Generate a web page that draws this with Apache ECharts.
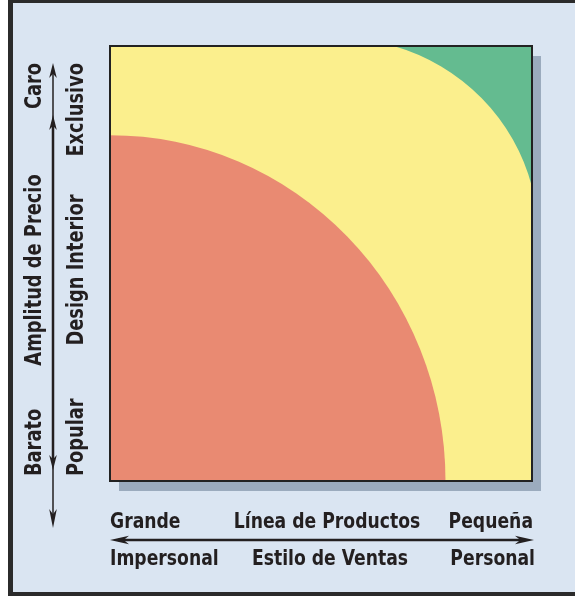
<!DOCTYPE html>
<html>
<head>
<meta charset="utf-8">
<script src="https://cdn.jsdelivr.net/npm/echarts@6/dist/echarts.min.js"></script>
<style>
html,body{margin:0;padding:0;background:#ffffff;}
#chart{width:575px;height:596px;}
</style>
</head>
<body>
<div id="chart"></div>
<script>
// ---- data (axis units 0..100 on both axes) ----
const tiers = ['Popular', 'Design Interior', 'Exclusivo'];
// each zone: [centre x, centre y, radius x, radius y]
const popularZone = [0, 0, 79.5, 79.5];        // quarter circle from the origin
const interiorZone = [0, 0, 100, 100];         // whole square (background tier)
const exclusivoZone = [54, 56.3, 47.5, 45.5];  // outside this arc, top-right corner
const yTitle = 'Amplitud de Precio';
const yEnds = ['Barato', 'Caro'];
const xLine1 = ['Grande', 'Línea de Productos', 'Pequeña'];
const xLine2 = ['Impersonal', 'Estilo de Ventas', 'Personal'];

// ---- styles ----
const tierColors = ['#E98A72', '#FBEF8D', '#64BB90'];
const BG = '#DAE5F2';
const INK = '#231F20';
const FAMILY = '"DejaVu Sans Condensed", "DejaVu Sans", sans-serif';

const chart = echarts.init(document.getElementById('chart'), null, {renderer: 'canvas'});

function pt(api, p) { const c = api.coord(p); return c[0] + ' ' + c[1]; }

function renderTier(params, api) {
  const i = params.dataIndex;
  const cx = api.value(0), cy = api.value(1), rx = api.value(2), ry = api.value(3);
  let d;
  if (i === 1) {
    d = 'M' + pt(api, [cx, cy]) + ' L' + pt(api, [rx, cy]) + ' L' + pt(api, [rx, ry]) + ' L' + pt(api, [cx, ry]) + ' Z';
  } else if (i === 0) {
    const s = api.size([rx, ry]);
    d = 'M' + pt(api, [cx, cy]) + ' L' + pt(api, [cx + rx, cy]) +
        ' A' + s[0] + ' ' + s[1] + ' 0 0 0 ' + pt(api, [cx, cy + ry]) + ' Z';
  } else {
    const tx = cx + rx * Math.sqrt(1 - Math.pow((100 - cy) / ry, 2));
    const ty = cy + ry * Math.sqrt(1 - Math.pow((100 - cx) / rx, 2));
    const s = api.size([rx, ry]);
    d = 'M' + pt(api, [tx, 100]) + ' L' + pt(api, [100, 100]) + ' L' + pt(api, [100, ty]) +
        ' A' + s[0] + ' ' + s[1] + ' 0 0 0 ' + pt(api, [tx, 100]) + ' Z';
  }
  return {
    type: 'path',
    z2: i === 1 ? 0 : 1,
    shape: {pathData: d},
    style: {fill: tierColors[i], stroke: null}
  };
}

chart.setOption({
  animation: false,
  backgroundColor: '#ffffff',
  grid: {left: 110, right: 43, top: 46, bottom: 115, show: false},
  xAxis: {type: 'value', min: 0, max: 100, show: false},
  yAxis: {type: 'value', min: 0, max: 100, show: false},
  series: [{
    type: 'custom',
    name: 'Segmentos',
    z: 2,
    dimensions: ['cx', 'cy', 'rx', 'ry'],
    renderItem: renderTier,
    data: [
      {name: tiers[0], value: popularZone},
      {name: tiers[1], value: interiorZone},
      {name: tiers[2], value: exclusivoZone}
    ]
  }]
});

const p0 = chart.convertToPixel({gridIndex: 0}, [0, 0]);
const p1 = chart.convertToPixel({gridIndex: 0}, [100, 100]);
const bx = p0[0], by = p1[1], bw = p1[0] - p0[0], bh = p0[1] - p1[1];

function head(tx, ty, dx, dy, len, half) {
  const px = -dy, py = dx;
  return {
    type: 'polygon', z: 20,
    shape: {points: [
      [tx, ty],
      [tx - dx * len + px * half, ty - dy * len + py * half],
      [tx - dx * len * 0.72, ty - dy * len * 0.72],
      [tx - dx * len - px * half, ty - dy * len - py * half]
    ]},
    style: {fill: INK}
  };
}
function txt(x, y, s, align, rot) {
  return {
    type: 'text', z: 20, x: x, y: y, rotation: rot ? Math.PI / 2 : 0,
    scaleX: rot ? 0.88 : 0.87,
    style: {text: s, fill: INK, fontFamily: FAMILY, fontWeight: 'bold',
      fontSize: rot ? 22.5 : 22, textAlign: align, textVerticalAlign: 'middle'}
  };
}

const ax = 53;
const g = [
  {type: 'rect', z: -10, shape: {x: 10.5, y: 0.5, width: 700, height: 594},
    style: {fill: BG, stroke: '#2B2B2B', lineWidth: 5}},
  {type: 'rect', z: 0, shape: {x: bx + 9, y: by + 10, width: bw, height: bh},
    style: {fill: '#9BABBE'}},
  {type: 'rect', z: 10, shape: {x: bx, y: by, width: bw, height: bh},
    style: {fill: null, stroke: '#222222', lineWidth: 2}},
  // vertical arrows
  {type: 'line', z: 20, shape: {x1: ax, y1: 70, x2: ax, y2: 520}, style: {stroke: INK, lineWidth: 1.5}},
  {type: 'line', z: 20, shape: {x1: ax, y1: 122, x2: ax, y2: 462}, style: {stroke: INK, lineWidth: 2.5}},
  head(ax, 63, 0, -1, 15, 3.8),
  head(ax, 115, 0, -1, 15, 3.8),
  head(ax, 470, 0, 1, 15, 3.8),
  head(ax, 528, 0, 1, 19, 3.8),
  // horizontal arrow
  {type: 'line', z: 20, shape: {x1: 118, y1: 540, x2: 525, y2: 540}, style: {stroke: INK, lineWidth: 2.6}},
  head(110, 540, -1, 0, 19, 4.2),
  head(534, 540, 1, 0, 19, 4.2),
  // vertical texts
  txt(35, 63, yEnds[1], 'right', true),
  txt(35, 270, yTitle, 'center', true),
  txt(35, 476, yEnds[0], 'left', true),
  txt(77, 63, tiers[2], 'right', true),
  txt(77, 270, tiers[1], 'center', true),
  txt(77, 476, tiers[0], 'left', true),
  // horizontal texts
  txt(110, 522, xLine1[0], 'left'),
  txt(327, 522, xLine1[1], 'center'),
  txt(533, 522, xLine1[2], 'right'),
  txt(110, 559, xLine2[0], 'left'),
  txt(330, 559, xLine2[1], 'center'),
  txt(535, 559, xLine2[2], 'right')
];
chart.setOption({graphic: {elements: g}});
</script>
</body>
</html>
